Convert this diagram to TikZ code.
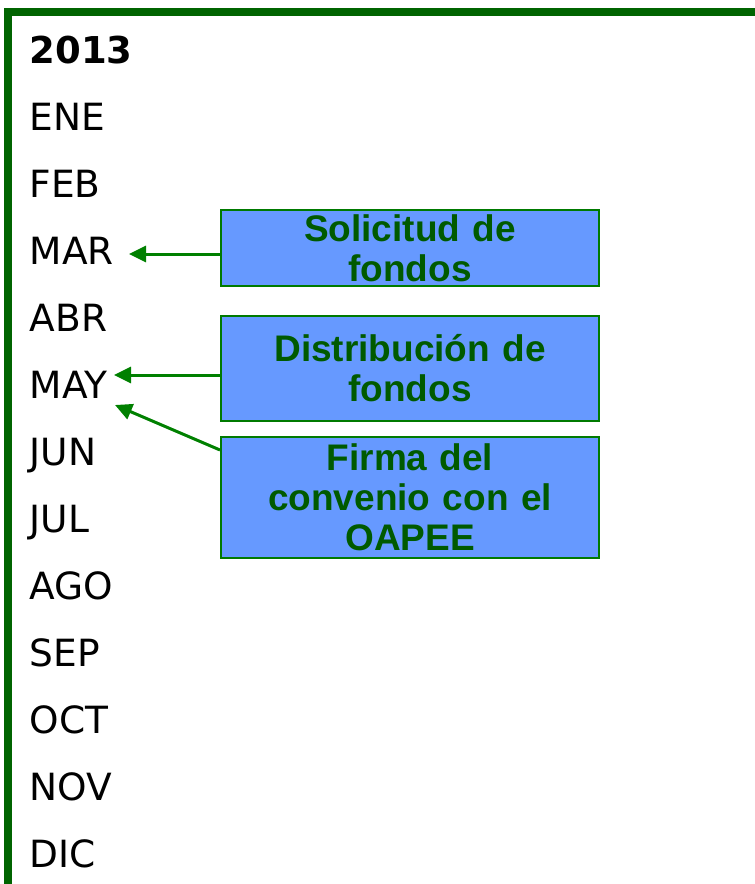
\documentclass[tikz,border=0pt]{standalone}
\usepackage{fontspec}
\setmainfont{DejaVu Sans}
\newfontfamily\boxfont{Liberation Sans}
\usetikzlibrary{arrows.meta}
\definecolor{frameg}{HTML}{006400}
\definecolor{arrg}{HTML}{008000}
\definecolor{boxline}{HTML}{007A00}
\definecolor{boxfill}{HTML}{6699FF}
\definecolor{boxtext}{HTML}{005A00}
\tikzset{
  month/.style={anchor=base west, inner sep=0pt, font=\fontsize{37.5}{40}\selectfont},
  evbox/.style={draw=boxline, line width=2pt, fill=boxfill, minimum width=378pt, inner sep=0pt,
    anchor=north west, align=center, text=boxtext, text width=370pt,
    font=\boxfont\bfseries\fontsize{37}{40}\selectfont},
  arr/.style={draw=arrg, line width=3pt, -{Triangle[length=17pt,width=16pt]}}
}
\begin{document}
\begin{tikzpicture}[x=1pt,y=-1pt]
\useasboundingbox (0,0) rectangle (755,884);
\draw[frameg, line width=8pt, line join=miter] (760,12) -- (8,12) -- (8,890);
\node[month, font=\bfseries\fontsize{37}{40}\selectfont] (y2013) at (29.5,63) {2013};
\node[month] (ene) at (29.5,130) {ENE};
\node[month] (feb) at (29.5,197) {FEB};
\node[month] (mar) at (29.5,264) {MAR};
\node[month] (abr) at (29.5,331) {ABR};
\node[month] (may) at (29.5,398) {MAY};
\node[month] (jun) at (29.5,465) {JUN};
\node[month] (jul) at (29.5,532) {JUL};
\node[month] (ago) at (29.5,599) {AGO};
\node[month] (sep) at (29.5,666) {SEP};
\node[month] (oct) at (29.5,733) {OCT};
\node[month] (nov) at (29.5,800) {NOV};
\node[month] (dic) at (29.5,867) {DIC};
\node[evbox, minimum height=76pt] (b1) at (220,209) {Solicitud de\\fondos};
\node[evbox, minimum height=105pt] (b2) at (220,315) {Distribución de\\fondos};
\node[evbox, minimum height=121pt] (b3) at (220,436) {Firma del\\convenio con el\\OAPEE};
\coordinate (t1) at (129,254);
\coordinate (t2) at (114,375);
\coordinate (t3) at (115,405);
\coordinate (s3) at (220,450);
\draw[arr] (b1.west |- t1) -- (t1);
\draw[arr] (b2.west |- t2) -- (t2);
\draw[arr] (s3) -- (t3);
\end{tikzpicture}
\end{document}
